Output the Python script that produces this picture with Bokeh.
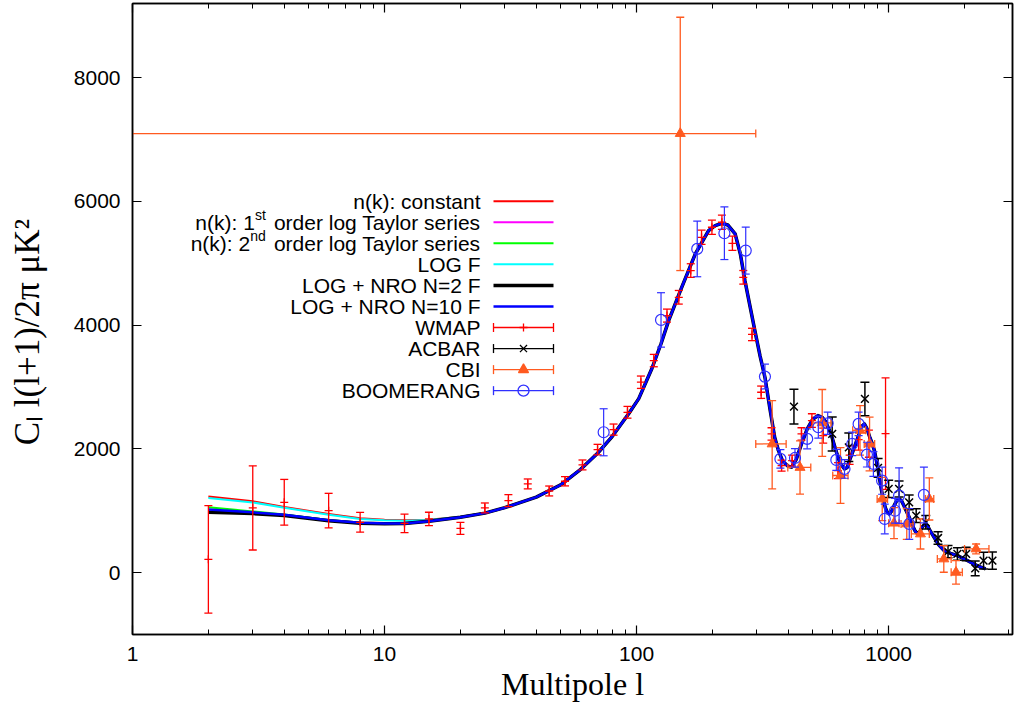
from math import log10, pi
from bokeh.plotting import figure
from bokeh.models import (Range1d, FixedTicker, LogAxis, LinearAxis, Label,
                          ColumnDataSource, PrintfTickFormatter)
from bokeh.embed import file_html
from bokeh.resources import INLINE

# ---------------- data ----------------
ell_low = [2, 3, 4, 6, 8, 10, 12, 15, 20, 25]
cl_low_constant = [1229, 1153, 1060, 949, 878, 855, 845, 855, 905, 965]
cl_low_taylor1 = [990, 960, 925, 842, 802, 792, 795, 830, 895, 962]
cl_low_taylor2 = [1056, 990, 940, 850, 806, 794, 796, 831, 895, 962]
cl_low_logf = [1205, 1135, 1050, 935, 868, 848, 840, 852, 902, 963]
cl_low_nro2 = [975, 955, 922, 840, 800, 790, 795, 830, 894, 962]
cl_low_nro10 = [1020, 975, 935, 848, 805, 793, 796, 830, 894, 962]

ell_high = [30, 40, 50, 60, 70, 80, 93, 102, 115, 125, 134, 151, 171, 193, 205, 218,
            230, 246, 258, 269, 282, 295, 309, 323, 338, 353, 365, 380, 399, 412, 430,
            451, 475, 500, 524, 545, 560, 591, 615, 640, 668, 685, 700, 731, 765, 785,
            801, 820, 840, 860, 878, 905, 932, 950, 970, 990, 1007, 1030, 1050, 1075,
            1102, 1125, 1150, 1180, 1207, 1250, 1275, 1302, 1330, 1350, 1380, 1404,
            1430, 1450, 1515, 1580, 1660, 1760, 1874, 2000, 2115, 2250, 2425]
cl_high = [1050, 1220, 1420, 1670, 1930, 2200, 2570, 2813, 3300, 3700, 4074, 4613,
           5152, 5530, 5610, 5648, 5620, 5476, 5150, 4721, 4300, 3900, 3500, 3158,
           2650, 2188, 1980, 1800, 1720, 1705, 1830, 2080, 2320, 2480, 2538, 2510,
           2450, 2242, 2000, 1780, 1676, 1700, 1820, 2026, 2250, 2370, 2404, 2330,
           2200, 2090, 1972, 1700, 1379, 1200, 1050, 965, 949, 1000, 1080, 1160, 1191,
           1160, 1080, 980, 894, 740, 670, 625, 660, 720, 770, 787, 750, 700, 571,
           450, 356, 310, 275, 220, 167, 110, 60]

wmap_l = [2, 3, 4, 6, 8, 12, 15, 20, 25, 31, 37, 45, 52, 61, 70, 81, 92, 104, 117,
          132, 147, 164, 181, 199, 218, 240, 265, 287, 312, 343, 376, 414, 451, 496,
          550, 630, 700, 760, 835, 972]
wmap_cl = [215, 1046, 1137, 1002, 814, 797, 868, 716, 1046, 1164, 1434, 1320, 1477,
           1741, 1989, 2312, 2592, 3078, 3428, 4155, 4451, 4883, 5421, 5583, 5664,
           5324, 4774, 3850, 2916, 2242, 1730, 1811, 2242, 2458, 2215, 1649, 1900,
           2150, 2085, 2247]
wmap_err = [868, 680, 370, 280, 160, 150, 108, 97, 80, 97, 80, 80, 75, 80, 85, 90,
            95, 100, 100, 105, 110, 110, 115, 115, 115, 115, 110, 100, 100, 100, 90,
            90, 100, 110, 120, 130, 150, 170, 220, 900]

acbar_l = [421, 597, 695, 805, 908, 1000, 1100, 1206, 1286, 1404, 1570, 1720, 1874,
           2030, 2205, 2380, 2580]
acbar_cl = [2684, 2242, 2026, 2808, 1693, 1353, 1353, 1137, 922, 814, 560, 340, 302,
            302, 70, 194, 194]
acbar_err = [280, 275, 230, 270, 150, 140, 130, 120, 110, 110, 100, 100, 100, 110,
             120, 135, 140]

cbi_l = [149, 345, 445, 545, 644, 770, 840, 943, 1050, 1180, 1337, 1450, 1655, 1850, 2223]
cbi_cl = [7098, 2080, 1700, 2420, 1570, 2300, 2080, 1191, 800, 787, 625, 1191, 221, 5, 383]
cbi_err_lo = [2215, 727, 430, 540, 450, 400, 435, 350, 250, 250, 243, 340, 215, 190, 80]
cbi_err_hi = [1880, 701, 430, 540, 450, 400, 435, 350, 250, 250, 243, 340, 215, 190, 80]
cbi_l_lo = [1, 297, 398, 500, 600, 720, 800, 900, 1000, 1120, 1230, 1400, 1560, 1770, 2000]
cbi_l_hi = [297, 392, 491, 590, 690, 810, 880, 990, 1100, 1250, 1450, 1510, 1770, 1960, 2500]

boom_l = [74, 125, 174, 223, 271, 323, 372, 425, 475, 526, 573, 620, 668, 717, 760,
          820, 870, 942, 965, 1060, 1100, 1207, 1380]
boom_cl = [2269, 4085, 5233, 5486, 5206, 3169, 1838, 1854, 2162, 2350, 2414, 1822,
           1676, 2080, 2404, 1908, 1757, 1487, 868, 1000, 1245, 787, 1256]
boom_err = [380, 440, 450, 425, 380, 200, 150, 150, 160, 175, 180, 170, 150, 190,
            190, 200, 200, 220, 240, 200, 450, 250, 450]

x_ticks = [1, 10, 100, 1000]
y_ticks = [0, 2000, 4000, 6000, 8000]

# ---------------- layout ----------------
XMIN, XMAX = 1, 3100
YMIN, YMAX = -1000, 9200
FL, FT, FW, FH = 132, 3, 880, 631
BOTTOM = 76

SANS = "Liberation Sans"
SERIF = "Liberation Serif"
RED = "#ff0000"
ORANGE = "#ff5a20"
BLUE = "#3030ff"

p = figure(x_axis_type="log", x_range=Range1d(XMIN, XMAX), y_range=Range1d(YMIN, YMAX),
           frame_width=FW, frame_height=FH, min_border_left=FL, min_border_top=FT,
           min_border_right=3, min_border_bottom=BOTTOM, output_backend="svg",
           toolbar_location=None, background_fill_color="white",
           border_fill_color="white")
p.grid.visible = False
p.outline_line_color = "black"
p.outline_line_width = 1.5

minor = [m * d for d in (1, 10, 100, 1000) for m in range(2, 10) if m * d <= XMAX]
xt = FixedTicker(ticks=x_ticks, minor_ticks=minor)
yt = FixedTicker(ticks=y_ticks, minor_ticks=[])


def style_axis(ax, labels=True):
    ax.axis_line_color = "black"
    ax.axis_line_width = 1.5
    ax.major_tick_in = 9
    ax.major_tick_out = 0
    ax.minor_tick_in = 5
    ax.minor_tick_out = 0
    ax.major_tick_line_color = "black"
    ax.major_tick_line_width = 1.2
    ax.minor_tick_line_color = "black"
    ax.minor_tick_line_width = 1.0
    if labels:
        ax.major_label_text_font = SANS
        ax.major_label_text_font_size = "21px"
        ax.major_label_text_color = "black"
    else:
        ax.major_label_text_font_size = "1px"
        ax.major_label_text_alpha = 0
        ax.major_label_standoff = 0


p.xaxis.ticker = xt
p.xaxis.formatter = PrintfTickFormatter(format="%d")
p.yaxis.ticker = yt
p.yaxis.formatter = PrintfTickFormatter(format="%d")
style_axis(p.xaxis[0])
style_axis(p.yaxis[0])
p.xaxis.major_label_standoff = 12
p.yaxis.major_label_standoff = 12

p.xaxis.axis_label = "Multipole l"
p.xaxis.axis_label_text_font = SERIF
p.xaxis.axis_label_text_font_size = "32px"
p.xaxis.axis_label_text_font_style = "normal"
p.xaxis.axis_label_text_color = "black"
p.xaxis.axis_label_standoff = 2

p.yaxis.axis_label = "C\u2097 l(l+1)/2\u03c0 \u03bcK\u00b2\u00a0\u00a0\u00a0"
p.yaxis.axis_label_text_font = SERIF
p.yaxis.axis_label_text_font_size = "35px"
p.yaxis.axis_label_text_font_style = "normal"
p.yaxis.axis_label_text_color = "black"
p.yaxis.axis_label_standoff = 24

top = LogAxis(ticker=xt, formatter=PrintfTickFormatter(format="%d"))
style_axis(top, labels=False)
p.add_layout(top, "above")
right = LinearAxis(ticker=yt, formatter=PrintfTickFormatter(format="%d"))
style_axis(right, labels=False)
right.minor_tick_line_color = None
p.add_layout(right, "right")
p.yaxis.minor_tick_line_color = None

# ---------------- theory curves ----------------
models = [
    ("n(k): constant", RED, 2.0, cl_low_constant),
    ("n(k): 1st order log Taylor series", "#ff00ff", 2.0, cl_low_taylor1),
    ("n(k): 2nd order log Taylor series", "#00ff00", 2.0, cl_low_taylor2),
    ("LOG F", "#00ffff", 2.0, cl_low_logf),
    ("LOG + NRO N=2 F", "#000000", 3.5, cl_low_nro2),
    ("LOG + NRO N=10 F", "#0000ff", 2.5, cl_low_nro10),
]
for name, col, lw, low in models:
    p.line(ell_low + ell_high, low + cl_high, line_color=col, line_width=lw,
           line_join="round")


# ---------------- data points ----------------
def vbars(l, c, elo, ehi, color, lw=1.3, cap=8):
    src = ColumnDataSource(dict(l=l, lo=[a - b for a, b in zip(c, elo)],
                                hi=[a + b for a, b in zip(c, ehi)]))
    p.segment("l", "lo", "l", "hi", source=src, line_color=color, line_width=lw)
    for key in ("lo", "hi"):
        p.scatter("l", key, source=src, marker="dash", size=cap, line_color=color,
                  line_width=lw)


vbars(wmap_l, wmap_cl, wmap_err, wmap_err, RED)
p.scatter(wmap_l, wmap_cl, marker="cross", size=8, line_color=RED, line_width=1.3)

vbars(acbar_l, acbar_cl, acbar_err, acbar_err, "black", lw=1.5, cap=9)
p.scatter(acbar_l, acbar_cl, marker="x", size=11, line_color="black", line_width=1.5)

vbars(cbi_l, cbi_cl, cbi_err_lo, cbi_err_hi, ORANGE)
hsrc = ColumnDataSource(dict(x0=cbi_l_lo, x1=cbi_l_hi, y=cbi_cl))
p.segment("x0", "y", "x1", "y", source=hsrc, line_color=ORANGE, line_width=1.3)
for key in ("x0", "x1"):
    p.scatter(key, "y", source=hsrc, marker="dash", angle=pi / 2, size=8,
              line_color=ORANGE, line_width=1.3)
p.scatter(cbi_l, cbi_cl, marker="triangle", size=10, fill_color=ORANGE,
          line_color=ORANGE)

vbars(boom_l, boom_cl, boom_err, boom_err, BLUE, lw=1.2)
p.scatter(boom_l, boom_cl, marker="circle", size=11, fill_color=None,
          line_color=BLUE, line_width=1.2)

# ---------------- helpers for the legend ----------------
ARIAL = {' ': 278, 'o': 556, 'r': 333, 'd': 556, 'e': 556, 'l': 222, 'g': 556,
         'T': 611, 'a': 556, 'y': 500, 's': 500, 'i': 222, 't': 278, 'n': 556,
         '(': 333, ')': 333, 'k': 500, ':': 278, '1': 556, '2': 556}


def tw(s, size):
    return sum(ARIAL.get(ch, 556) for ch in s) * size / 1000.0


def dx(cx):
    return 10 ** (log10(XMIN) + (cx - FL) / FW * (log10(XMAX) - log10(XMIN)))


def dy(cy):
    return YMAX - (cy - FT) / FH * (YMAX - YMIN)


def label(x, y, text, size):
    p.add_layout(Label(x=x, y=y, x_units="canvas", y_units="canvas", text=text,
                       text_font=SANS, text_font_size=f"{size}px", text_align="right",
                       text_baseline="middle", text_color="black"))


# ---------------- legend ----------------
LEG_RIGHT = 480
LEG_Y0 = 200.7
LEG_DY = 21.05
FS = 21
SUP = 14
S0, S1 = 493, 553

plain_rows = ["n(k): constant", None, None, "LOG F", "LOG + NRO N=2 F",
              "LOG + NRO N=10 F", "WMAP", "ACBAR", "CBI", "BOOMERANG"]
sup_rows = {1: ("n(k): 1", "st", "order log Taylor series"),
            2: ("n(k): 2", "nd", "order log Taylor series")}

for i in range(10):
    cy = LEG_Y0 + i * LEG_DY
    if i in sup_rows:
        pre, sup, post = sup_rows[i]
        label(LEG_RIGHT, cy, post, FS)
        xs = LEG_RIGHT - tw(post, FS) - tw(" ", FS)
        label(xs, cy - 7, sup, SUP)
        label(xs - tw(sup, SUP), cy, pre, FS)
    else:
        label(LEG_RIGHT, cy, plain_rows[i], FS)

for i in range(6):
    _, col, lw, _ = models[i]
    yd = dy(LEG_Y0 + i * LEG_DY)
    p.segment([dx(S0)], [yd], [dx(S1)], [yd], line_color=col, line_width=lw)

err_rows = [(6, RED, "cross", 8, None), (7, "black", "x", 10, None),
            (8, ORANGE, "triangle", 10, ORANGE), (9, BLUE, "circle", 11, None)]
for i, col, mk, sz, fill in err_rows:
    yd = dy(LEG_Y0 + i * LEG_DY)
    p.segment([dx(S0)], [yd], [dx(S1)], [yd], line_color=col, line_width=1.3)
    p.scatter([dx(S0), dx(S1)], [yd, yd], marker="dash", angle=pi / 2, size=9,
              line_color=col, line_width=1.3)
    p.scatter([dx((S0 + S1) / 2)], [yd], marker=mk, size=sz, line_color=col,
              fill_color=fill, line_width=1.3)

open("out.html", "w").write(file_html(p, INLINE))
